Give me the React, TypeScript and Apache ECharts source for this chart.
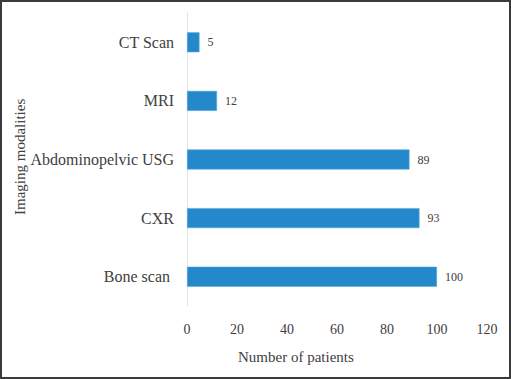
import React, { useEffect, useRef } from "react";
import * as echarts from "echarts";

const categories = ["Bone scan ", "CXR", "Abdominopelvic USG", "MRI", "CT Scan"];
const patients = [100, 93, 89, 12, 5];
const xTicks = [0, 20, 40, 60, 80, 100, 120];

const FONT = "Liberation Serif";

export default function App() {
  const ref = useRef<HTMLDivElement>(null);
  useEffect(() => {
    if (!ref.current) return;
    const chart = echarts.init(ref.current, null, { renderer: "svg" });
    chart.setOption({
      animation: false,
      backgroundColor: "#ffffff",
      textStyle: { fontFamily: FONT },
      grid: { left: 187, right: 24, top: 13, bottom: 73, containLabel: false },
      xAxis: {
        type: "value",
        min: xTicks[0],
        max: xTicks[xTicks.length - 1],
        interval: 20,
        axisLine: { show: false },
        axisTick: { show: false },
        splitLine: { show: false },
        axisLabel: { fontFamily: FONT, fontSize: 14, color: "#404040", margin: 16 },
      },
      yAxis: {
        type: "category",
        data: categories,
        axisLine: { show: true, lineStyle: { color: "#e3e3e3", width: 1 } },
        axisTick: { show: false },
        axisLabel: { fontFamily: FONT, fontSize: 16, color: "#404040", margin: 13 },
      },
      series: [
        {
          type: "bar",
          data: patients,
          barWidth: 20,
          itemStyle: { color: "#2389CB", borderColor: "#5aa8da", borderWidth: 0.6 },
          label: {
            show: true,
            position: "right",
            distance: 8,
            fontFamily: FONT,
            fontSize: 12,
            color: "#404040",
          },
        },
      ],
      graphic: [
        {
          type: "rect",
          shape: { x: 1, y: 1, width: 509, height: 377 },
          style: { fill: "none", stroke: "#3a3a3a", lineWidth: 2 },
          silent: true,
        },
        {
          type: "text",
          x: 238,
          y: 349,
          style: {
            text: "Number of patients",
            fontFamily: FONT,
            fontSize: 15,
            fill: "#404040",
          },
        },
        {
          type: "text",
          x: 12,
          y: 215,
          rotation: Math.PI / 2,
          style: {
            text: "Imaging modalities",
            fontFamily: FONT,
            fontSize: 15,
            fill: "#404040",
          },
        },
      ],
    });
    return () => chart.dispose();
  }, []);
  return (
    <div
      ref={ref}
      style={{ position: "fixed", left: 0, top: 0, width: 511, height: 379 }}
    />
  );
}
